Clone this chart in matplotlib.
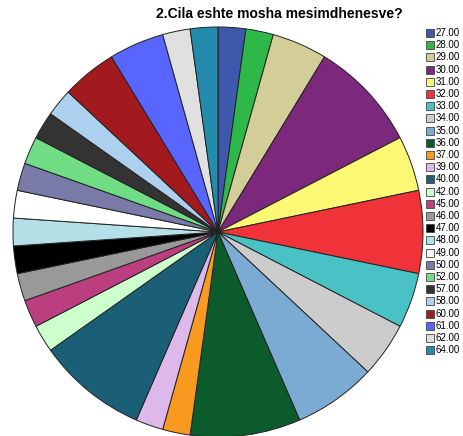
import matplotlib
matplotlib.use("Agg")
import matplotlib.pyplot as plt
from matplotlib.patches import Rectangle

plt.rcParams['font.family'] = ['Liberation Sans', 'DejaVu Sans']

# age categories and counts
ages = ["27.00", "28.00", "29.00", "30.00", "31.00", "32.00", "33.00", "34.00", "35.00",
        "36.00", "37.00", "39.00", "40.00", "42.00", "45.00", "46.00", "47.00", "48.00",
        "49.00", "50.00", "52.00", "57.00", "58.00", "60.00", "61.00", "62.00", "64.00"]
counts = [1, 1, 2, 4, 2, 3, 2, 2, 3,
          4, 1, 1, 4, 1, 1, 1, 1, 1,
          1, 1, 1, 1, 1, 2, 2, 1, 1]
colors = ["#3E58AC", "#2EB848", "#D3CE97", "#7C287D", "#FBF873", "#EF3338", "#48C2C5",
          "#CCCCCC", "#7BAAD2", "#0B5B2C", "#F89A1F", "#DDB9EB", "#1A5F76", "#CCFFCC",
          "#BB3F7F", "#999999", "#000000", "#B5E0E7", "#FFFFFF", "#797AA7", "#70DC84",
          "#333333", "#ACD0EE", "#A31A1E", "#5866FF", "#E0E0E0", "#248BAC"]
title = "2.Cila eshte mosha mesimdhenesve?"

W, H = 463, 436
fig = plt.figure(figsize=(W / 100, H / 100), dpi=100)

cx, cy, r = 218, 232, 205
ax = fig.add_axes([(cx - r) / W, (H - cy - r) / H, 2 * r / W, 2 * r / H])
ax.pie(counts, colors=colors, startangle=90, counterclock=False,
       wedgeprops=dict(edgecolor="#222222", linewidth=0.7))
ax.set_xlim(-1.0, 1.0)
ax.set_ylim(-1.0, 1.0)
ax.axis("off")

fig.text(279 / W, 1 - 14 / H, title, ha="center", va="center",
         fontsize=10, fontweight="bold")

# legend
y0, step = 33, 12.2
for i, (lab, col) in enumerate(zip(ages, colors)):
    y = y0 + i * step
    fig.patches.append(Rectangle(((426) / W, 1 - (y + 4) / H), 8 / W, 8 / H,
                                 transform=fig.transFigure, facecolor=col,
                                 edgecolor="#444444", linewidth=0.6))
    fig.text(436 / W, 1 - y / H, lab, ha="left", va="center", fontsize=7)

fig.savefig("out.png", dpi=100)
